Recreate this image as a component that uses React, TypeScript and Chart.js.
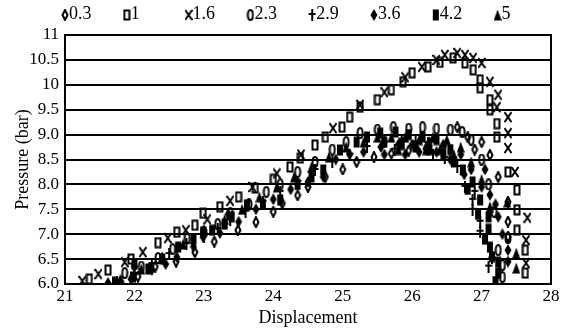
import React, { useEffect, useRef } from "react";
import { Chart, registerables } from "chart.js";
Chart.register(...registerables);

const seriesLabels = ["0.3", "1", "1.6", "2.3", "2.9", "3.6", "4.2", "5"];
const yTickLabels = ["6.0", "6.5", "7.0", "7.5", "8.0", "8.5", "9.0", "9.5", "10", "10.5", "11"];

const x03 = [21.8, 22.05, 22.3, 22.6, 22.87, 23.15, 23.49, 23.75, 24.0, 24.13, 24.35, 24.5, 24.75, 25.0, 25.2, 25.45, 25.7, 25.95, 26.2, 26.45, 26.65, 26.8, 26.9, 27.0, 27.12, 27.24, 27.38, 27.38, 27.38];
const y03 = [6.05, 6.15, 6.35, 6.45, 6.64, 6.85, 7.08, 7.24, 7.45, 7.62, 7.78, 7.95, 8.15, 8.3, 8.45, 8.55, 8.62, 8.68, 8.72, 8.75, 9.15, 8.95, 8.7, 8.85, 8.59, 8.15, 7.65, 7.25, 6.95];

const x1 = [21.35, 21.62, 21.95, 22.34, 22.61, 22.87, 22.99, 23.23, 23.5, 23.74, 24.0, 24.24, 24.39, 24.6, 24.75, 24.99, 25.1, 25.25, 25.5, 25.7, 25.87, 26.0, 26.23, 26.4, 26.59, 26.76, 26.88, 26.98, 26.98, 27.12, 27.12, 27.22, 27.22, 27.38, 27.51, 27.51, 27.51, 27.63, 27.63];
const y1 = [6.1, 6.28, 6.5, 6.83, 7.04, 7.18, 7.42, 7.55, 7.75, 7.93, 8.1, 8.35, 8.53, 8.79, 8.95, 9.15, 9.35, 9.55, 9.7, 9.9, 10.06, 10.24, 10.36, 10.45, 10.54, 10.44, 10.3, 10.1, 9.94, 9.7, 9.5, 9.22, 8.95, 8.25, 7.89, 7.49, 7.08, 6.68, 6.22];

const x16 = [21.25, 21.48, 21.86, 22.12, 22.48, 22.74, 23.05, 23.38, 23.7, 24.05, 24.4, 24.86, 25.25, 25.6, 25.9, 26.14, 26.35, 26.47, 26.65, 26.76, 26.88, 27.0, 27.12, 27.24, 27.22, 27.38, 27.38, 27.38, 27.48, 27.66, 27.64, 27.64];
const y16 = [6.06, 6.2, 6.44, 6.64, 6.92, 7.08, 7.3, 7.67, 7.95, 8.22, 8.6, 9.13, 9.6, 9.85, 10.15, 10.36, 10.5, 10.6, 10.64, 10.6, 10.54, 10.44, 10.06, 9.8, 9.55, 9.35, 9.03, 8.73, 8.25, 7.33, 6.88, 6.42];

const x23 = [21.86, 22.1, 22.34, 22.55, 22.76, 23.0, 23.2, 23.38, 23.65, 23.9, 24.1, 24.35, 24.6, 24.85, 25.05, 25.25, 25.5, 25.73, 25.95, 26.15, 26.35, 26.55, 26.72, 26.85, 27.0, 27.1, 27.18, 27.24, 27.3, 27.3, 27.38];
const y23 = [6.22, 6.35, 6.52, 6.7, 6.92, 7.05, 7.2, 7.42, 7.6, 7.85, 8.0, 8.25, 8.45, 8.7, 8.85, 9.03, 9.1, 9.15, 9.12, 9.15, 9.12, 9.1, 9.05, 8.9, 8.5, 8.0, 7.45, 6.68, 6.38, 6.14, 6.92];

const x29 = [21.75, 22.0, 22.25, 22.5, 22.75, 23.0, 23.2, 23.38, 23.6, 23.85, 24.1, 24.35, 24.6, 24.85, 25.1, 25.35, 25.6, 25.75, 25.85, 26.05, 26.23, 26.3, 26.47, 26.65, 26.76, 26.87, 26.87, 26.9, 26.98, 26.98, 27.15, 27.1];
const y29 = [6.05, 6.2, 6.4, 6.6, 6.8, 6.95, 7.1, 7.28, 7.45, 7.65, 7.85, 8.05, 8.29, 8.45, 8.6, 8.75, 8.85, 8.7, 8.9, 8.85, 8.83, 8.6, 8.53, 8.35, 7.95, 7.69, 7.49, 7.85, 7.25, 7.05, 6.52, 6.35];

const x36 = [21.62, 21.95, 22.0, 22.25, 22.45, 22.61, 22.85, 22.99, 23.23, 23.35, 23.5, 23.75, 24.0, 24.25, 24.5, 24.72, 24.9, 25.1, 25.3, 25.55, 25.6, 25.8, 25.9, 26.0, 26.1, 26.25, 26.35, 26.45, 26.55, 26.7, 26.75, 26.85, 27.0, 27.05, 27.12, 27.2, 27.24, 27.3, 27.38, 27.38];
const y36 = [6.02, 6.1, 6.35, 6.28, 6.4, 6.54, 6.75, 6.94, 7.02, 7.4, 7.25, 7.5, 7.7, 7.9, 8.05, 8.15, 8.5, 8.6, 8.65, 8.75, 8.6, 8.8, 8.6, 8.8, 8.65, 8.85, 8.65, 8.8, 8.5, 8.6, 8.2, 8.3, 7.95, 8.3, 7.79, 7.6, 7.35, 7.0, 6.68, 6.45];

const x42 = [21.72, 21.98, 22.0, 22.2, 22.4, 22.63, 22.85, 22.99, 23.12, 23.3, 23.4, 23.62, 23.85, 24.1, 24.35, 24.55, 24.72, 24.96, 25.2, 25.35, 25.54, 25.6, 25.76, 25.85, 25.95, 26.05, 26.15, 26.25, 26.35, 26.45, 26.55, 26.6, 26.73, 26.8, 26.87, 26.95, 26.98, 27.05, 27.1, 27.1, 27.12, 27.15, 27.2, 27.24, 27.24];
const y42 = [6.04, 6.14, 6.4, 6.3, 6.5, 6.74, 6.9, 7.04, 7.08, 7.2, 7.35, 7.59, 7.6, 7.69, 8.0, 8.15, 8.29, 8.69, 8.85, 8.95, 9.03, 8.85, 9.05, 8.8, 9.0, 8.75, 8.95, 8.7, 8.9, 8.6, 8.7, 8.45, 8.29, 7.9, 8.05, 7.4, 7.69, 6.9, 7.35, 7.1, 6.74, 6.55, 6.05, 6.44, 6.22];

const x5 = [21.8, 22.1, 22.4, 22.7, 23.0, 23.3, 23.55, 23.8, 24.05, 24.3, 24.55, 24.8, 25.05, 25.3, 25.5, 25.7, 25.8, 25.9, 26.1, 26.2, 26.3, 26.4, 26.5, 26.6, 26.7, 26.85, 27.0, 27.12, 27.37, 27.5, 27.5];
const y5 = [6.1, 6.3, 6.55, 6.8, 7.1, 7.3, 7.5, 7.75, 7.95, 8.15, 8.35, 8.55, 8.75, 8.85, 8.95, 8.95, 8.7, 8.95, 8.9, 8.7, 8.95, 8.7, 8.9, 8.6, 8.75, 8.45, 8.1, 7.55, 7.65, 6.62, 6.32];

const seriesX = [x03, x1, x16, x23, x29, x36, x42, x5];
const seriesY = [y03, y1, y16, y23, y29, y36, y42, y5];
const markerKinds = ["diamondOpen", "rectOpen", "x", "circleOpen", "plus", "diamondFilled", "rectFilled", "triFilled"];

const FONT = "'Liberation Serif', 'Times New Roman', serif";

function makeMarker(kind: string): HTMLCanvasElement {
  const w = 8, h = 12;
  const c = document.createElement("canvas");
  c.width = w; c.height = h;
  const g = c.getContext("2d")!;
  g.fillStyle = "#000"; g.strokeStyle = "#000"; g.lineWidth = 2;
  const cx = w / 2, cy = h / 2;
  g.beginPath();
  switch (kind) {
    case "diamondOpen":
      g.moveTo(cx, 1); g.lineTo(w - 1.5, cy); g.lineTo(cx, h - 1); g.lineTo(1.5, cy); g.closePath(); g.stroke(); break;
    case "diamondFilled":
      g.moveTo(cx, 0); g.lineTo(w - 0.5, cy); g.lineTo(cx, h); g.lineTo(0.5, cy); g.closePath(); g.fill(); break;
    case "rectOpen":
      g.strokeRect(1.5, 1.5, w - 3, h - 3); break;
    case "rectFilled":
      g.fillRect(1, 0.5, w - 2, h - 1); break;
    case "x":
      g.moveTo(0.5, 1); g.lineTo(w - 0.5, h - 1); g.moveTo(w - 0.5, 1); g.lineTo(0.5, h - 1); g.stroke(); break;
    case "circleOpen":
      g.ellipse(cx, cy, w / 2 - 1.5, h / 2 - 1, 0, 0, Math.PI * 2); g.stroke(); break;
    case "plus":
      g.moveTo(cx, 0); g.lineTo(cx, h); g.moveTo(0.5, cy - 1); g.lineTo(w - 0.5, cy - 1); g.stroke(); break;
    case "triFilled":
      g.moveTo(cx, 0.5); g.lineTo(w, h - 0.5); g.lineTo(0, h - 0.5); g.closePath(); g.fill(); break;
  }
  return c;
}

export default function App() {
  const ref = useRef<HTMLCanvasElement>(null);
  useEffect(() => {
    if (!ref.current) return;
    const markers = markerKinds.map(makeMarker);
    const datasets = seriesLabels.map((label, i) => ({
      label,
      data: seriesX[i].map((x, j) => ({ x, y: seriesY[i][j] })),
      pointStyle: markers[i] as any,
      pointRadius: 4,
      showLine: false,
      borderColor: "#000",
      backgroundColor: "#000",
    }));

    const frame = {
      id: "frame",
      afterDraw(chart: any) {
        const { ctx, chartArea: a } = chart;
        ctx.save();
        ctx.strokeStyle = "#000";
        ctx.lineWidth = 2;
        ctx.strokeRect(a.left, a.top, a.right - a.left, a.bottom - a.top);
        // legend
        ctx.font = `18px ${FONT}`;
        ctx.fillStyle = "#000";
        ctx.textBaseline = "middle";
        ctx.textAlign = "left";
        seriesLabels.forEach((lab, i) => {
          const mx = 65 + i * 61.8;
          const m = markers[i];
          ctx.drawImage(m, mx - m.width / 2, 15 - m.height / 2);
          ctx.fillText(lab, mx + 4, 14);
        });
        ctx.restore();
      },
    };

    const chart = new Chart(ref.current, {
      type: "scatter",
      data: { datasets },
      plugins: [frame],
      options: {
        animation: false,
        responsive: false,
        layout: { padding: { top: 35, right: 12, left: 0, bottom: 0 } },
        plugins: { legend: { display: false }, tooltip: { enabled: false } },
        scales: {
          x: {
            type: "linear",
            min: 21,
            max: 28,
            afterFit: (s: any) => { s.height = 45; },
            ticks: { stepSize: 1, color: "#000", padding: 2, font: { family: FONT, size: 17 } },
            grid: { display: false, drawTicks: false },
            border: { display: true, color: "#000", width: 2 },
            title: { display: true, text: "Displacement", color: "#000", font: { family: FONT, size: 18 }, padding: { top: 0, bottom: 0 } },
          },
          y: {
            type: "linear",
            min: 6,
            max: 11,
            afterFit: (s: any) => { s.width = 65; },
            ticks: {
              stepSize: 0.5,
              color: "#000",
              padding: 6,
              font: { family: FONT, size: 17 },
              callback: (_v: any, i: number) => yTickLabels[i],
            },
            grid: { color: "#000", lineWidth: 2, drawTicks: false },
            border: { display: true, color: "#000", width: 2 },
            title: { display: true, text: "Pressure (bar)", color: "#000", font: { family: FONT, size: 18 }, padding: { top: 12, bottom: 0 } },
          },
        },
      } as any,
    });
    return () => chart.destroy();
  }, []);
  return (
    <div style={{ position: "fixed", left: 0, top: 0, width: 563, height: 329, background: "#fff" }}>
      <canvas ref={ref} width={563} height={329} style={{ width: 563, height: 329 }} />
    </div>
  );
}
